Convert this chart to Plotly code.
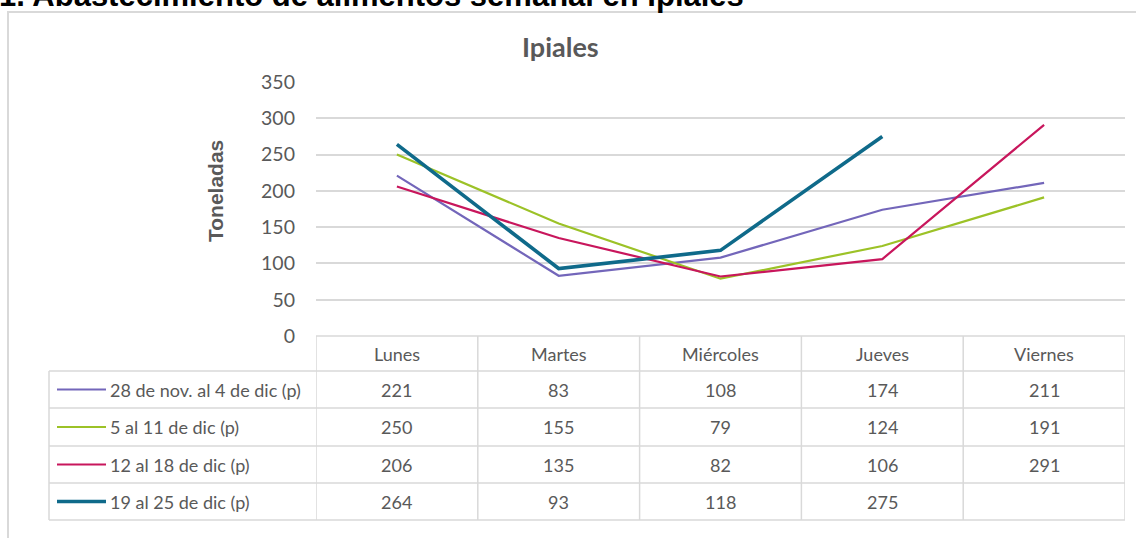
import plotly.graph_objects as go

categories = ["Lunes", "Martes", "Miércoles", "Jueves", "Viernes"]
series_names = ["28 de nov. al 4 de dic (p)", "5 al 11 de dic (p)", "12 al 18 de dic (p)", "19 al 25 de dic (p)"]
s1 = [221, 83, 108, 174, 211]
s2 = [250, 155, 79, 124, 191]
s3 = [206, 135, 82, 106, 291]
s4 = [264, 93, 118, 275, None]
series_values = [s1, s2, s3, s4]
colors = ["#7366BA", "#9CC227", "#C8165C", "#0F6A8A"]
widths = [2.2, 2.2, 2.2, 3.6]
y_ticks = [0, 50, 100, 150, 200, 250, 300, 350]

W, H = 1136, 538
L, R, T, B = 316, 1125, 82, 336
PW, PH = R - L, B - T

def xp(px):
    return (px - L) / PW

def yp(py):
    return (B - py) / PH

xs = list(range(len(categories)))
fig = go.Figure()
for name, vals, c, w in zip(series_names, series_values, colors, widths):
    fig.add_trace(go.Scatter(x=xs, y=vals, mode="lines", name=name,
                             line=dict(color=c, width=w), connectgaps=False,
                             showlegend=False))

grid = "#D9D9D9"
txt = "#595959"
shapes = []
annotations = []

# chart border
shapes.append(dict(type="rect", xref="paper", yref="paper",
                   x0=xp(8), x1=xp(1145), y0=yp(560), y1=yp(12),
                   line=dict(color="#D9D9D9", width=2), layer="below"))

# table
row_lines = [336, 371, 408, 446, 483, 520]
for i, py in enumerate(row_lines):
    x0 = L if i == 0 else 49
    shapes.append(dict(type="line", xref="paper", yref="paper",
                       x0=xp(x0), x1=1, y0=yp(py), y1=yp(py),
                       line=dict(color=grid, width=1.5)))
for k in range(len(categories) + 1):
    xv = k - 0.5
    shapes.append(dict(type="line", xref="x", yref="paper",
                       x0=xv, x1=xv, y0=yp(336), y1=yp(520),
                       line=dict(color=grid, width=1.5)))
shapes.append(dict(type="line", xref="paper", yref="paper",
                   x0=xp(49), x1=xp(49), y0=yp(371), y1=yp(520),
                   line=dict(color=grid, width=1.5)))

tfont = dict(family="Lato", size=18, color=txt)
for i, cat in enumerate(categories):
    annotations.append(dict(x=i, y=yp(353.5), xref="x", yref="paper", text=cat,
                            xanchor="center", yanchor="middle", showarrow=False, font=tfont))

row_centers = [389.5, 427, 464.5, 501.5]
for r, (name, vals, c, w) in enumerate(zip(series_names, series_values, colors, widths)):
    yc = yp(row_centers[r])
    shapes.append(dict(type="line", xref="paper", yref="paper",
                       x0=xp(57), x1=xp(106), y0=yc, y1=yc,
                       line=dict(color=c, width=w)))
    annotations.append(dict(x=xp(108), y=yc, xref="paper", yref="paper", text=name,
                            xanchor="left", yanchor="middle", showarrow=False, font=tfont))
    for i, v in enumerate(vals):
        annotations.append(dict(x=i, y=yc, xref="x", yref="paper",
                                text="" if v is None else str(v), showarrow=False,
                                xanchor="center", yanchor="middle", font=tfont))

annotations.append(dict(x=xp(560), y=yp(46), xref="paper", yref="paper", text="<b>Ipiales</b>",
                        xanchor="center", yanchor="middle", showarrow=False,
                        font=dict(family="Lato", size=27, color=txt)))
annotations.append(dict(x=xp(215), y=yp(191), xref="paper", yref="paper", text="<b>Toneladas</b>",
                        textangle=-90, xanchor="center", yanchor="middle", showarrow=False,
                        font=dict(family="Liberation Sans", size=21, color=txt)))
annotations.append(dict(x=xp(-3), y=yp(-4), xref="paper", yref="paper",
                        text="<b>1. Abastecimiento de alimentos semanal en Ipiales</b>",
                        xanchor="left", yanchor="middle", showarrow=False,
                        font=dict(family="Liberation Sans", size=31, color="#000000")))

fig.update_layout(
    width=W, height=H,
    margin=dict(l=L, r=W - R, t=T, b=H - B, pad=0),
    paper_bgcolor="white", plot_bgcolor="white",
    shapes=shapes, annotations=annotations,
    xaxis=dict(range=[-0.5, len(categories) - 0.5], showticklabels=False, showgrid=False,
               zeroline=False, showline=False, fixedrange=True),
    yaxis=dict(range=[0, 350], tickvals=y_ticks, showgrid=True, gridcolor=grid, gridwidth=1.5,
               zeroline=False, showline=False, ticklabelstandoff=20,
               tickfont=dict(family="Lato", size=19.5, color=txt), fixedrange=True),
)
fig.write_html("out.html", config={"displayModeBar": False},
               post_script="document.body.style.margin='0px';document.body.style.overflow='hidden';")
